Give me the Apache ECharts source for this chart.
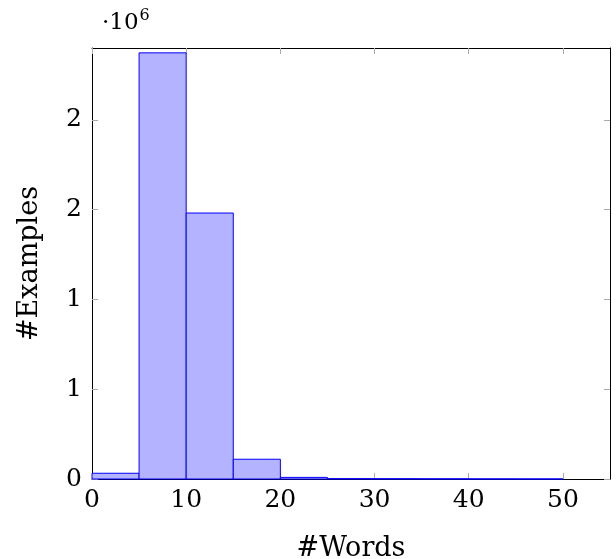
<!DOCTYPE html>
<html>
<head>
<meta charset="utf-8">
<script src="https://cdn.jsdelivr.net/npm/echarts@6/dist/echarts.min.js"></script>
<style>html,body{margin:0;padding:0;background:#fff;}#c{width:616px;height:559px;}</style>
</head>
<body>
<div id="c"></div>
<script>
const binStarts = [0, 5, 10, 15, 20, 25, 30, 35, 40, 45];
const binWidth = 5;
const counts = [32000, 2373000, 1481000, 110000, 9000, 2000, 1500, 1000, 600, 300];
const xTicks = [0, 10, 20, 30, 40, 50];
const yTicks = [0, 500000, 1000000, 1500000, 2000000];

const data = binStarts.map((s, i) => [s, s + binWidth, counts[i]]);
const FONT = 'DejaVu Serif';
const chart = echarts.init(document.getElementById('c'), null, {renderer: 'canvas'});

const tickStyle = {show: true, inside: true, length: 6, lineStyle: {color: '#aaaaaa', width: 1}};
const lineStyle = {show: true, onZero: false, lineStyle: {color: '#000', width: 1}};

chart.setOption({
  animation: false,
  backgroundColor: '#fff',
  grid: {left: 92, right: 6, top: 48, bottom: 80, containLabel: false, outerBoundsMode: 'none', show: false},
  graphic: [{
    type: 'text', left: 102, top: 8,
    style: {
      text: '{a|·10}{b|6}',
      rich: {
        a: {fontFamily: FONT, fontSize: 23, fill: '#000', verticalAlign: 'bottom'},
        b: {fontFamily: FONT, fontSize: 16, fill: '#000', verticalAlign: 'top', padding: [0, 0, 11, 1]}
      }
    }
  }],
  xAxis: [{
    type: 'value', min: 0, max: 55, interval: 10,
    name: '#Words', nameLocation: 'middle', nameGap: 56,
    nameTextStyle: {fontFamily: FONT, fontSize: 27, color: '#000'},
    axisLine: lineStyle, axisTick: Object.assign({customValues: xTicks}, tickStyle),
    splitLine: {show: false},
    axisLabel: {customValues: xTicks, margin: 9, fontFamily: FONT, fontSize: 25, color: '#000'}
  }, {
    type: 'value', min: 0, max: 55, interval: 10, position: 'top',
    axisLine: lineStyle, axisTick: Object.assign({customValues: xTicks}, tickStyle),
    splitLine: {show: false}, axisLabel: {show: false}
  }],
  yAxis: [{
    type: 'value', min: 0, max: 2400000, interval: 500000,
    name: '#Examples', nameLocation: 'middle', nameGap: 49, nameRotate: 90,
    nameTextStyle: {fontFamily: FONT, fontSize: 27, color: '#000'},
    axisLine: lineStyle, axisTick: Object.assign({customValues: yTicks}, tickStyle),
    splitLine: {show: false},
    axisLabel: {customValues: yTicks, margin: 10, fontFamily: FONT, fontSize: 25, color: '#000',
      formatter: v => String(Math.round(v / 1e6))}
  }, {
    type: 'value', min: 0, max: 2400000, interval: 500000, position: 'right',
    axisLine: lineStyle, axisTick: Object.assign({customValues: yTicks}, tickStyle),
    splitLine: {show: false}, axisLabel: {show: false}
  }],
  series: [{
    type: 'custom',
    xAxisIndex: 0, yAxisIndex: 0,
    data: data,
    encode: {x: [0, 1], y: 2},
    renderItem: function (params, api) {
      const x0 = api.value(0), x1 = api.value(1), y = api.value(2);
      const p0 = api.coord([x0, 0]);
      const p1 = api.coord([x1, y]);
      return {
        type: 'rect',
        shape: {x: p0[0], y: p1[1], width: p1[0] - p0[0], height: p0[1] - p1[1]},
        style: {fill: '#b3b3ff', stroke: '#0000ff', lineWidth: 1}
      };
    }
  }]
});
</script>
</body>
</html>
